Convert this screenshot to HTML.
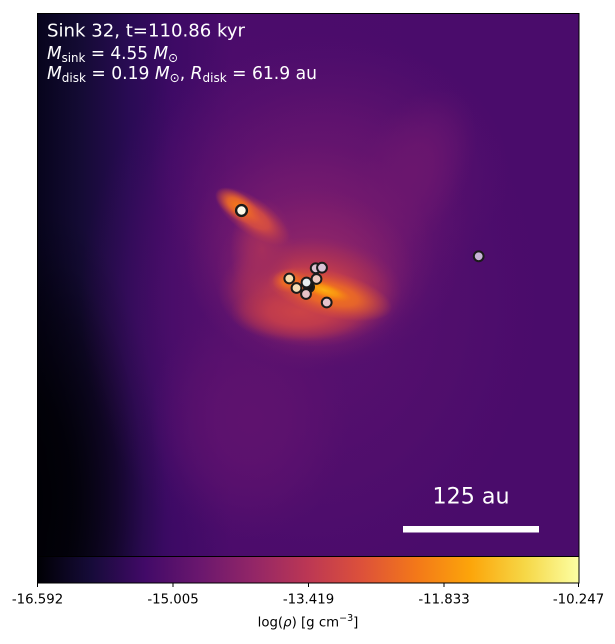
<!DOCTYPE html>
<html><head><meta charset="utf-8"><style>
html,body{margin:0;padding:0;background:#fff;overflow:hidden;width:615px;height:644px;}
svg{display:block;font-family:"DejaVu Sans","Liberation Sans",sans-serif;}
</style></head><body>
<svg width="615" height="644" viewBox="0 0 615 644" xmlns="http://www.w3.org/2000/svg">
<defs>
  <linearGradient id="bg" x1="37" y1="0" x2="579" y2="0" gradientUnits="userSpaceOnUse">
    <stop offset="0" stop-color="#07041c"/>
    <stop offset="0.08" stop-color="#140b34"/>
    <stop offset="0.17" stop-color="#290b54"/>
    <stop offset="0.25" stop-color="#3d0a65"/>
    <stop offset="0.36" stop-color="#4b0c6b"/>
    <stop offset="1" stop-color="#4a0c6b"/>
  </linearGradient>
  <linearGradient id="inf" x1="0" y1="0" x2="1" y2="0">
    <stop offset="0" stop-color="#000004"/>
    <stop offset="0.1" stop-color="#160b39"/>
    <stop offset="0.2" stop-color="#420a68"/>
    <stop offset="0.3" stop-color="#6a176e"/>
    <stop offset="0.4" stop-color="#932667"/>
    <stop offset="0.5" stop-color="#bc3754"/>
    <stop offset="0.6" stop-color="#dd513a"/>
    <stop offset="0.7" stop-color="#f37819"/>
    <stop offset="0.8" stop-color="#fca50a"/>
    <stop offset="0.9" stop-color="#f6d746"/>
    <stop offset="1" stop-color="#fcffa4"/>
  </linearGradient>
  <radialGradient id="gK" gradientUnits="userSpaceOnUse" cx="0" cy="0" r="1" gradientTransform="translate(25 500) scale(140 300)"><stop offset="0" stop-color="#000004" stop-opacity="1"/><stop offset="0.35" stop-color="#000004" stop-opacity="0.85"/><stop offset="0.65" stop-color="#000004" stop-opacity="0.45"/><stop offset="0.85" stop-color="#000004" stop-opacity="0.12"/><stop offset="1" stop-color="#000004" stop-opacity="0"/></radialGradient>
  <radialGradient id="gP1"><stop offset="0" stop-color="#56106e" stop-opacity="1"/><stop offset="0.35" stop-color="#56106e" stop-opacity="0.85"/><stop offset="0.65" stop-color="#56106e" stop-opacity="0.45"/><stop offset="0.85" stop-color="#56106e" stop-opacity="0.15"/><stop offset="1" stop-color="#56106e" stop-opacity="0"/></radialGradient>
  <radialGradient id="gP2"><stop offset="0" stop-color="#5e126e" stop-opacity="1"/><stop offset="0.35" stop-color="#5e126e" stop-opacity="0.85"/><stop offset="0.65" stop-color="#5e126e" stop-opacity="0.45"/><stop offset="0.85" stop-color="#5e126e" stop-opacity="0.15"/><stop offset="1" stop-color="#5e126e" stop-opacity="0"/></radialGradient>
  <radialGradient id="gP3"><stop offset="0" stop-color="#6a166e" stop-opacity="1"/><stop offset="0.35" stop-color="#6a166e" stop-opacity="0.85"/><stop offset="0.65" stop-color="#6a166e" stop-opacity="0.45"/><stop offset="0.85" stop-color="#6a166e" stop-opacity="0.15"/><stop offset="1" stop-color="#6a166e" stop-opacity="0"/></radialGradient>
  <radialGradient id="gP4"><stop offset="0" stop-color="#7a1c6d" stop-opacity="1"/><stop offset="0.35" stop-color="#7a1c6d" stop-opacity="0.85"/><stop offset="0.65" stop-color="#7a1c6d" stop-opacity="0.45"/><stop offset="0.85" stop-color="#7a1c6d" stop-opacity="0.15"/><stop offset="1" stop-color="#7a1c6d" stop-opacity="0"/></radialGradient>
  <radialGradient id="gM"><stop offset="0" stop-color="#962865" stop-opacity="1"/><stop offset="0.35" stop-color="#912667" stop-opacity="0.85"/><stop offset="0.65" stop-color="#8e2469" stop-opacity="0.45"/><stop offset="0.85" stop-color="#8e2469" stop-opacity="0.15"/><stop offset="1" stop-color="#8e2469" stop-opacity="0"/></radialGradient>
  <radialGradient id="gR"><stop offset="0" stop-color="#cc4347" stop-opacity="1"/><stop offset="0.45" stop-color="#c23c4c" stop-opacity="0.9"/><stop offset="0.72" stop-color="#b5354f" stop-opacity="0.5"/><stop offset="0.9" stop-color="#b5354f" stop-opacity="0.12"/><stop offset="1" stop-color="#b5354f" stop-opacity="0"/></radialGradient>
  <radialGradient id="gR2"><stop offset="0" stop-color="#a52e5c" stop-opacity="1"/><stop offset="0.4" stop-color="#a02c5e" stop-opacity="0.8"/><stop offset="0.75" stop-color="#a02c5e" stop-opacity="0.3"/><stop offset="1" stop-color="#a02c5e" stop-opacity="0"/></radialGradient>
  <radialGradient id="gS"><stop offset="0" stop-color="#e0573a" stop-opacity="1"/><stop offset="0.45" stop-color="#d84e40" stop-opacity="0.85"/><stop offset="0.8" stop-color="#c4404a" stop-opacity="0.3"/><stop offset="1" stop-color="#c4404a" stop-opacity="0"/></radialGradient>
  <radialGradient id="gO"><stop offset="0" stop-color="#f37819" stop-opacity="1"/><stop offset="0.45" stop-color="#ee6c24" stop-opacity="0.85"/><stop offset="0.8" stop-color="#e65d2e" stop-opacity="0.3"/><stop offset="1" stop-color="#e65d2e" stop-opacity="0"/></radialGradient>
  <radialGradient id="gY"><stop offset="0" stop-color="#fcb014" stop-opacity="1"/><stop offset="0.5" stop-color="#fa9a0e" stop-opacity="0.8"/><stop offset="1" stop-color="#f57d15" stop-opacity="0"/></radialGradient>
  <clipPath id="ax"><rect x="37" y="13" width="542" height="543"/></clipPath>
</defs>

<g clip-path="url(#ax)">
  <rect x="37" y="13" width="542" height="543" fill="url(#bg)"/>
  <rect x="37" y="13" width="542" height="543" fill="url(#gK)"/>
  <ellipse cx="310" cy="300" rx="230" ry="280" fill="url(#gP1)"/>
  <ellipse cx="250" cy="420" rx="100" ry="120" fill="url(#gP2)"/>
  <ellipse cx="330" cy="170" rx="180" ry="130" fill="url(#gP2)"/>
  <ellipse cx="320" cy="230" rx="150" ry="140" fill="url(#gP3)"/>
  <ellipse cx="410" cy="175" rx="55" ry="95" fill="url(#gP3)" transform="rotate(30 410 175)"/>
  <ellipse cx="310" cy="255" rx="125" ry="115" fill="url(#gP4)"/>
  <ellipse cx="315" cy="275" rx="100" ry="85" fill="url(#gM)"/>
  <ellipse cx="310" cy="292" rx="92" ry="55" fill="url(#gR)"/>
  <ellipse cx="300" cy="312" rx="70" ry="30" fill="url(#gR)"/>
  <ellipse cx="262" cy="250" rx="32" ry="52" fill="url(#gR2)"/>
  <ellipse cx="252" cy="216" rx="44" ry="18" fill="url(#gS)" transform="rotate(35 252 216)"/>
  <ellipse cx="238" cy="206" rx="26" ry="13" fill="url(#gO)" transform="rotate(35 238 206)"/>
  <ellipse cx="330" cy="294" rx="64" ry="23" fill="url(#gO)" transform="rotate(14 330 294)"/>
  <ellipse cx="290" cy="281" rx="18" ry="12" fill="url(#gO)"/>
  <ellipse cx="324" cy="290" rx="28" ry="8" fill="url(#gY)" transform="rotate(18 324 290)"/>
</g>

<!-- sinks -->
<g stroke="#1a1a1a" stroke-width="2">
  <circle cx="241.5" cy="210.5" r="5.4" fill="#fffbea" stroke-width="2.4"/>
  <circle cx="289.3" cy="278.5" r="4.9" fill="#f6dfae"/>
  <circle cx="296.5" cy="288" r="4.9" fill="#f4dcb4"/>
  <circle cx="309" cy="287" r="5" fill="#151515"/>
  <circle cx="306" cy="294" r="4.9" fill="#e7c3c8"/>
  <circle cx="306.5" cy="282.5" r="4.9" fill="#e8eef0"/>
  <circle cx="316.5" cy="279" r="4.9" fill="#ecc9c0"/>
  <circle cx="315.7" cy="268.3" r="4.9" fill="#dcc0d0"/>
  <circle cx="322" cy="267.7" r="4.9" fill="#d9c2d6"/>
  <circle cx="326.7" cy="302.5" r="4.9" fill="#e6c3cc"/>
  <circle cx="478.7" cy="256.3" r="4.9" fill="#c7b4d6"/>
</g>

<!-- annotations -->
<g fill="#ffffff" font-size="18">
  <text x="47" y="36.7" textLength="198" lengthAdjust="spacingAndGlyphs">Sink 32, t=110.86 kyr</text>
  <text x="47" y="59" textLength="131" lengthAdjust="spacingAndGlyphs"><tspan font-style="italic">M</tspan><tspan font-size="12.6" dy="3">sink</tspan><tspan dy="-3"> = 4.55 </tspan><tspan font-style="italic">M</tspan><tspan font-size="12.6" dy="3">⊙</tspan></text>
  <text x="47" y="79" textLength="270" lengthAdjust="spacingAndGlyphs"><tspan font-style="italic">M</tspan><tspan font-size="12.6" dy="3">disk</tspan><tspan dy="-3"> = 0.19 </tspan><tspan font-style="italic">M</tspan><tspan font-size="12.6" dy="3">⊙</tspan><tspan dy="-3">, </tspan><tspan font-style="italic">R</tspan><tspan font-size="12.6" dy="3">disk</tspan><tspan dy="-3"> = 61.9 au</tspan></text>
  <text x="471" y="503.3" font-size="22.2" text-anchor="middle">125 au</text>
</g>
<rect x="403" y="526" width="136" height="6.5" fill="#ffffff"/>

<!-- axes frame -->
<rect x="37.5" y="13.5" width="541.5" height="543" fill="none" stroke="#000" stroke-width="1"/>

<!-- colorbar -->
<rect x="37" y="557" width="542" height="26" fill="url(#inf)"/>
<rect x="37.5" y="556.5" width="541.5" height="26.5" fill="none" stroke="#000" stroke-width="1"/>
<g stroke="#000" stroke-width="1">
  <line x1="37.5" y1="583" x2="37.5" y2="587"/>
  <line x1="173" y1="583" x2="173" y2="587"/>
  <line x1="308.5" y1="583" x2="308.5" y2="587"/>
  <line x1="444" y1="583" x2="444" y2="587"/>
  <line x1="578.5" y1="583" x2="578.5" y2="587"/>
</g>
<g fill="#000" font-size="13.3" text-anchor="middle">
  <text x="37.5" y="603.5">-16.592</text>
  <text x="173" y="603.5">-15.005</text>
  <text x="308.5" y="603.5">-13.419</text>
  <text x="444" y="603.5">-11.833</text>
  <text x="578.5" y="603.5">-10.247</text>
  <text x="308" y="626.7">log(<tspan font-style="italic">ρ</tspan>) [g cm<tspan font-size="9.5" dy="-5.5">−3</tspan><tspan dy="5.5">]</tspan></text>
</g>
</svg>
</body></html>
